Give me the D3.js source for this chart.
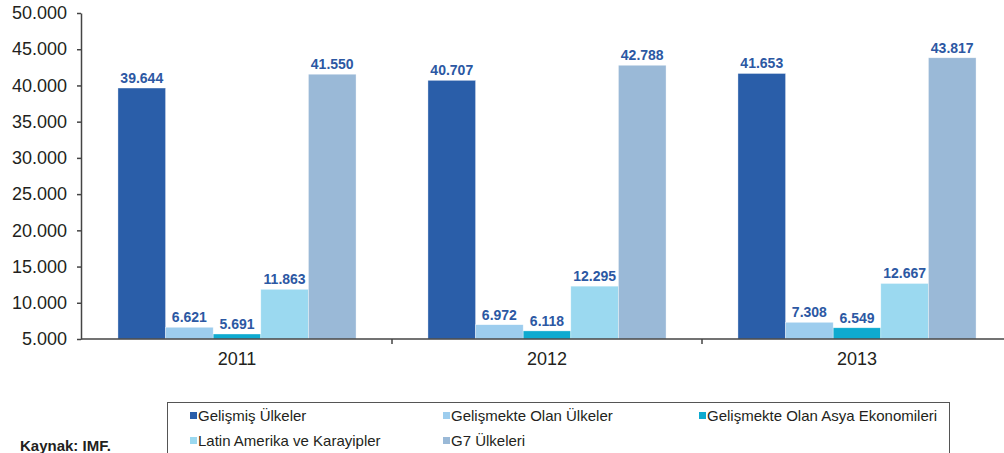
<!DOCTYPE html>
<html>
  <head>
    <meta charset="utf-8">
    <script src="https://d3js.org/d3.v7.min.js"></script>
    <style>
      body { margin: 0; background: #fff; }
      svg text { font-family: "Liberation Sans", Arial, sans-serif; }
      .axis .domain, .axis line { stroke: #444; stroke-width: 1.5; }
      .axis text { fill: #231f20; font-size: 18px; }
    </style>
  </head>
  <body>
    <svg id="chart" width="1004" height="453"></svg>
    <script>
      // data
      const years = ['2011', '2012', '2013'];
      const seriesNames = ['Gelişmiş Ülkeler', 'Gelişmekte Olan Ülkeler', 'Gelişmekte Olan Asya Ekonomileri',
                           'Latin Amerika ve Karayipler', 'G7 Ülkeleri'];
      const gelismis = [39644, 40707, 41653];
      const gelismekte = [6621, 6972, 7308];
      const asya = [5691, 6118, 6549];
      const latin = [11863, 12295, 12667];
      const g7 = [41550, 42788, 43817];
      const yTicks = [5000, 10000, 15000, 20000, 25000, 30000, 35000, 40000, 45000, 50000];

      const allSeries = [gelismis, gelismekte, asya, latin, g7];
      const colors = ['#2a5ea9', '#9dcdee', '#0eaad0', '#9bd9f0', '#9ab9d7'];

      const svg = d3.select('svg#chart');
      const tr = d3.formatLocale({decimal: ',', thousands: '.', grouping: [3], currency: ['', '']});
      const fmt = tr.format(',d');

      const plotLeft = 81, plotBottom = 339, plotTop = 13;
      const x0 = d3.scaleBand().domain(years).range([plotLeft + 1, plotLeft + 1 + 930]);
      const x1 = d3.scaleBand().domain(d3.range(5)).range([0, x0.bandwidth()]).paddingOuter(0.755);
      const y = d3.scaleLinear().domain([5000, 50000]).range([plotBottom, plotTop]);

      // y axis
      svg.append('g')
        .attr('class', 'axis')
        .attr('transform', `translate(${plotLeft},0)`)
        .call(d3.axisLeft(y).tickValues(yTicks).tickSize(4).tickPadding(10).tickSizeOuter(0).tickFormat(fmt));

      // bars
      years.forEach((yr, i) => {
        allSeries.forEach((s, j) => {
          svg.append('rect')
            .attr('x', x0(yr) + x1(j))
            .attr('y', y(s[i]))
            .attr('width', x1.bandwidth())
            .attr('height', plotBottom - y(s[i]))
            .attr('fill', colors[j])
            .attr('stroke', '#fff')
            .attr('stroke-opacity', 0.6)
            .attr('stroke-width', 0.6);
          svg.append('text')
            .attr('x', x0(yr) + x1(j) + x1.bandwidth() / 2)
            .attr('y', y(s[i]) - 5)
            .attr('text-anchor', 'middle')
            .attr('font-size', 14)
            .attr('font-weight', 'bold')
            .attr('fill', '#2c58a3')
            .text(fmt(s[i]));
        });
      });

      // x axis
      const xAxis = svg.append('g')
        .attr('class', 'axis')
        .attr('transform', `translate(0,${plotBottom})`)
        .call(d3.axisBottom(x0).tickSize(0).tickPadding(13).tickSizeOuter(0));
      xAxis.select('.domain').attr('d', `M${plotLeft},0H1004`);
      xAxis.selectAll('.sep')
        .data(years.slice(1))
        .enter().append('line')
        .attr('x1', d => x0(d)).attr('x2', d => x0(d))
        .attr('y1', 0).attr('y2', 5);

      // legend
      svg.append('rect')
        .attr('x', 167.5).attr('y', 402.5)
        .attr('width', 782).attr('height', 60)
        .attr('fill', 'none').attr('stroke', '#555').attr('stroke-width', 1);
      const legendPos = [[190, 421], [443, 421], [699, 421], [190, 446], [443, 446]];
      seriesNames.forEach((name, j) => {
        const [lx, ly] = legendPos[j];
        svg.append('rect')
          .attr('x', lx).attr('y', ly - 9)
          .attr('width', 7).attr('height', 7)
          .attr('fill', colors[j]);
        svg.append('text')
          .attr('x', lx + 8).attr('y', ly)
          .attr('font-size', 15)
          .attr('fill', '#231f20')
          .text(name);
      });

      svg.append('text')
        .attr('x', 20).attr('y', 451)
        .attr('font-size', 15)
        .attr('font-weight', 'bold')
        .attr('fill', '#231f20')
        .text('Kaynak: IMF.');
    </script>
  </body>
</html>
